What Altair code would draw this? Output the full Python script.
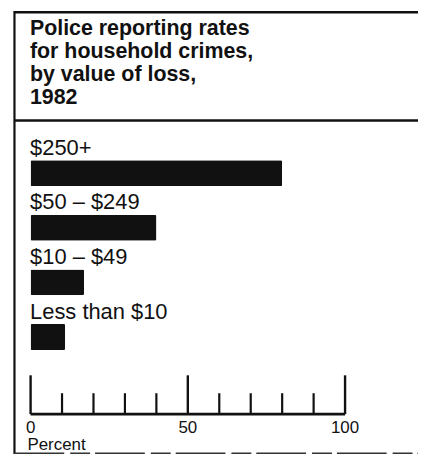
import altair as alt
import pandas as pd

# ---- data ----
title_lines = ["Police reporting rates", "for household crimes,", "by value of loss,", "1982"]
categories = ["$250+", "$50 – $249", "$10 – $49", "Less than $10"]
percents = [80, 40, 17, 11]
tick_values = [0, 10, 20, 30, 40, 50, 60, 70, 80, 90, 100]
major_ticks = [0, 50, 100]
tick_labels = [0, 50, 100]
axis_title = "Percent"

FONT = "Liberation Sans"
INK = "#111111"

bars_df = pd.DataFrame({"category": categories, "percent": percents, "zero": [0] * len(categories)})
ticks_df = pd.DataFrame({"v": tick_values, "major": [v in major_ticks for v in tick_values]})
labels_df = pd.DataFrame({"v": tick_labels})
axis_df = pd.DataFrame({"lo": [tick_values[0]], "hi": [tick_values[-1]], "t": [axis_title]})
title_df = pd.DataFrame({"t": ["\n".join(title_lines)]})

xscale = alt.Scale(domain=[0, 100], range=[22.7, 338.7], nice=False, zero=True)
yscale = alt.Scale(type="point", domain=categories, range=[163, 327.5], padding=0)

base = alt.Chart(bars_df)

bars = base.mark_bar(size=26, color=INK, cornerRadius=1.5).encode(
    x=alt.X("percent:Q", scale=xscale, axis=None),
    y=alt.Y("category:N", scale=yscale, axis=None),
)

cat_text = base.mark_text(
    align="left", baseline="alphabetic", dy=-18.5, dx=-0.5,
    font=FONT, fontSize=22, color=INK,
).encode(
    x=alt.X("zero:Q", scale=xscale, axis=None),
    y=alt.Y("category:N", scale=yscale, axis=None),
    text="category:N",
)

minor = alt.Chart(ticks_df).transform_filter("!datum.major").mark_rule(
    color=INK, strokeWidth=2.2
).encode(
    x=alt.X("v:Q", scale=xscale, axis=None),
    y=alt.value(405), y2=alt.value(384),
)
major = alt.Chart(ticks_df).transform_filter("datum.major").mark_rule(
    color=INK, strokeWidth=2.4
).encode(
    x=alt.X("v:Q", scale=xscale, axis=None),
    y=alt.value(405), y2=alt.value(366),
)
baseline = alt.Chart(axis_df).mark_rule(color=INK, strokeWidth=2.6).encode(
    x=alt.X("lo:Q", scale=xscale, axis=None), x2="hi:Q", y=alt.value(405),
)
tick_text = alt.Chart(labels_df).mark_text(
    align="center", baseline="alphabetic", font=FONT, fontSize=17, color=INK,
).encode(
    x=alt.X("v:Q", scale=xscale, axis=None),
    y=alt.value(424),
    text="v:Q",
)
axis_label = alt.Chart(axis_df).mark_text(
    align="left", baseline="alphabetic", font=FONT, fontSize=17, color=INK,
).encode(
    x=alt.value(19.5), y=alt.value(441), text="t:N",
)

title_text = alt.Chart(title_df).mark_text(
    align="left", baseline="alphabetic", font=FONT, fontSize=21.5, fontWeight="bold",
    color=INK, lineBreak="\n", lineHeight=23,
).encode(
    x=alt.value(22), y=alt.value(24), text="t:N",
)

# frame lines
frame_df = axis_df
left_border = alt.Chart(frame_df).mark_rule(color=INK, strokeWidth=2.2).encode(
    x=alt.value(6.5), y=alt.value(0), y2=alt.value(445),
)
top_border = alt.Chart(frame_df).mark_rule(color=INK, strokeWidth=2.5).encode(
    x=alt.value(6.5), x2=alt.value(412), y=alt.value(1.2),
)
divider = alt.Chart(frame_df).mark_rule(color=INK, strokeWidth=2.5).encode(
    x=alt.value(6.5), x2=alt.value(412), y=alt.value(110),
)
bottom_border = alt.Chart(frame_df).mark_rule(color="#333333", strokeWidth=1.5, strokeDash=[50, 6, 20, 5]).encode(
    x=alt.value(6.5), x2=alt.value(412), y=alt.value(444.2),
)

chart = alt.layer(
    left_border, top_border, divider, bottom_border,
    title_text, bars, cat_text, minor, major, baseline, tick_text, axis_label,
).properties(
    width=412, height=445, padding=0, background="white",
).configure_view(stroke=None)

chart.save("out.html", embed_options={"renderer": "svg", "actions": False})
